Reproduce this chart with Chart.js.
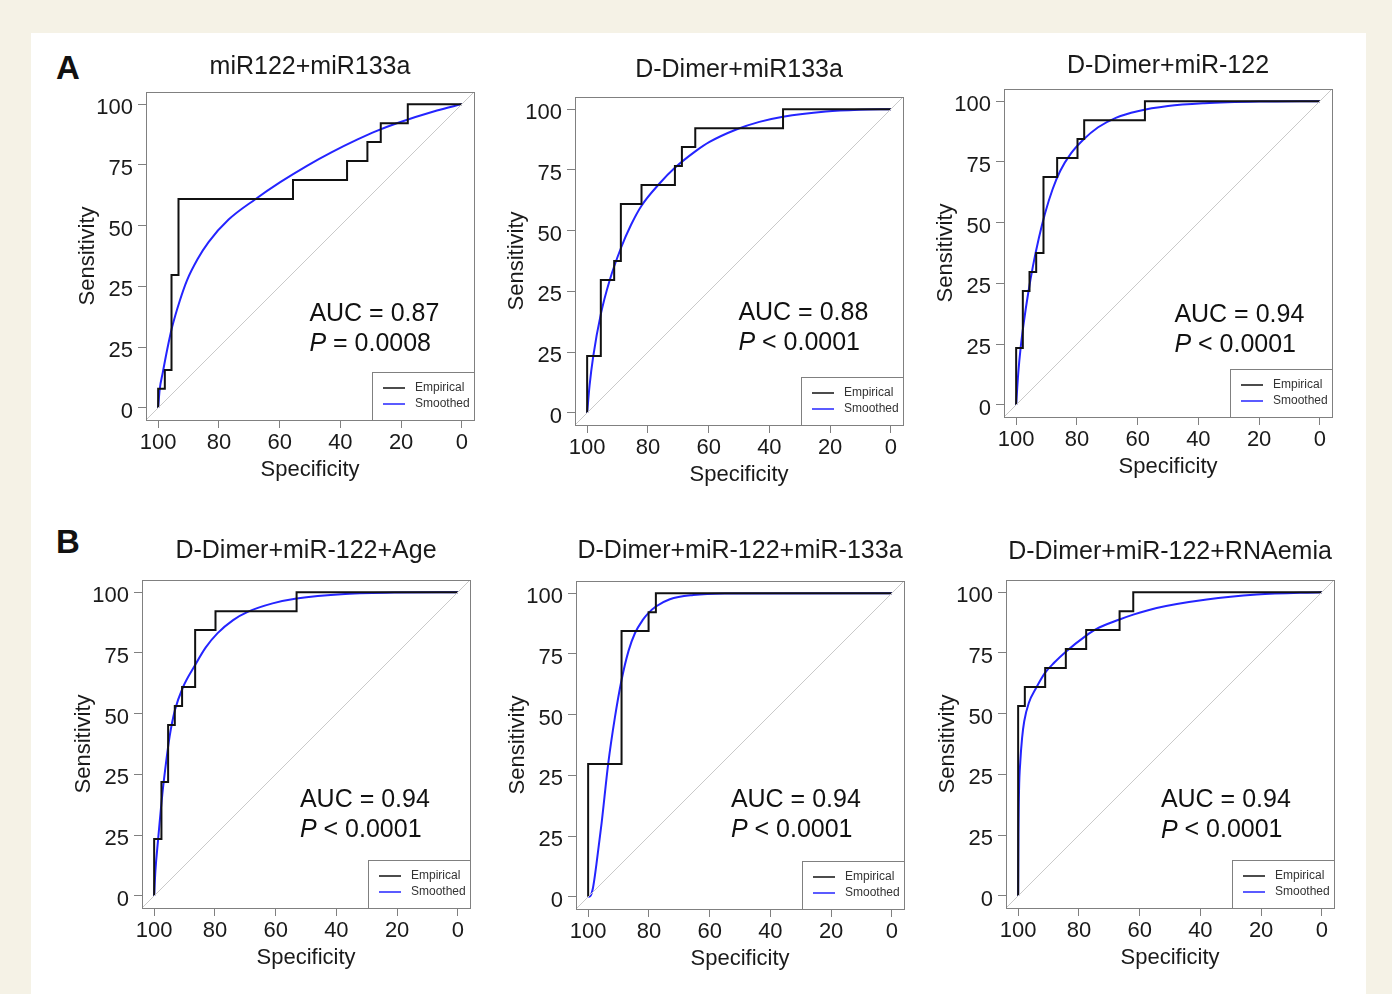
<!DOCTYPE html>
<html>
<head>
<meta charset="utf-8">
<script src="https://cdn.jsdelivr.net/npm/chart.js@4.4.1/dist/chart.umd.min.js"></script>
<style>
  body { margin: 0; width: 1392px; height: 994px; overflow: hidden; position: relative; background: #f5f2e6; font-family: "Liberation Sans", Arial, sans-serif; }
  #sheet { position: absolute; left: 31px; top: 33px; width: 1335px; height: 961px; background: #fff; }
  canvas { position: absolute; }
  .tag { position: absolute; font-weight: bold; font-size: 33px; line-height: 33px; color: #111; }
</style>
</head>
<body>
<div id="sheet"></div>
<div class="tag" style="left:56px;top:51px">A</div>
<div class="tag" style="left:56px;top:525px">B</div>

<script>
// panel titles and annotations
const titles = ['miR122+miR133a', 'D-Dimer+miR133a', 'D-Dimer+miR-122',
                'D-Dimer+miR-122+Age', 'D-Dimer+miR-122+miR-133a', 'D-Dimer+miR-122+RNAemia'];
const aucText = ['AUC = 0.87', 'AUC = 0.88', 'AUC = 0.94', 'AUC = 0.94', 'AUC = 0.94', 'AUC = 0.94'];
const pText = [' = 0.0008', ' < 0.0001', ' < 0.0001', ' < 0.0001', ' < 0.0001', ' < 0.0001'];
const legendLabels = ['Empirical', 'Smoothed'];

// axis ticks (y labels copied as printed in the figure)
const xTicks = [100, 80, 60, 40, 20, 0];
const yTicks = [0, 20, 40, 60, 80, 100];
const yTickLabels = ['0', '25', '25', '50', '75', '100'];

// empirical ROC points: specificity / sensitivity
const empSpec = [
  [100, 100, 97.8, 95.6, 93.3, 55.6, 37.8, 31.1, 26.7, 17.8, 0],
  [100, 100, 95.5, 91.1, 88.9, 82.1, 71.1, 68.8, 64.4, 35.5, 0],
  [100, 100, 97.8, 95.6, 93.4, 91.0, 86.5, 79.8, 77.6, 57.6, 0],
  [100, 100, 97.6, 95.4, 93.2, 90.8, 86.5, 79.8, 53.1, 0],
  [100, 100, 89.0, 80.1, 77.7, 0],
  [100, 100, 97.8, 91.1, 84.3, 77.6, 66.6, 62.1, 0]
];
const empSens = [
  [0, 6.25, 12.5, 43.75, 68.75, 75, 81.25, 87.5, 93.75, 100, 100],
  [0, 18.75, 43.75, 50, 68.75, 75, 81.25, 87.5, 93.75, 100, 100],
  [0, 18.75, 37.5, 43.75, 50, 75, 81.25, 87.5, 93.75, 100, 100],
  [0, 18.75, 37.5, 56.25, 62.5, 68.75, 87.5, 93.75, 100, 100],
  [0, 43.75, 87.5, 93.75, 100, 100],
  [0, 62.5, 68.75, 75, 81.25, 87.5, 93.75, 100, 100]
];

// smoothed ROC curves
const smSpec = [
  [100, 99.5, 98.5, 97.0, 95.4, 92.9, 90.5, 87.0, 83.4, 76.8, 68.0, 59.8, 51.0, 42.8, 34.5, 28.0, 21.4, 8.2, 0],
  [100, 99.2, 98.0, 95.5, 92.6, 88.9, 85.5, 82.1, 76.1, 71.2, 64.5, 59.7, 50.9, 43.3, 35.5, 21.4, 10.4, 0],
  [100, 99.3, 98.5, 97.5, 96.0, 94.5, 92.5, 90.5, 88.0, 85.5, 82.0, 78.0, 73.0, 67.0, 60.0, 50.0, 38.0, 20.0, 0],
  [100, 99.6, 98.7, 97.3, 96.0, 94.9, 93.2, 90.5, 86.5, 83.0, 79.1, 74.0, 69.2, 61.0, 53.1, 37.1, 20.0, 0],
  [100, 99.2, 98.4, 97.3, 95.6, 93.4, 91.2, 89.0, 86.7, 84.6, 82.0, 80.1, 77.7, 73.1, 65.4, 55.0, 0],
  [100, 99.9, 99.7, 99.3, 98.7, 98.0, 96.5, 94.0, 91.1, 88.0, 84.3, 77.6, 74.2, 66.6, 62.1, 54.4, 37.9, 21.4, 0]
];
const smSens = [
  [0, 6.0, 11.5, 19.3, 26.6, 35.2, 42.0, 49.0, 54.6, 62.0, 68.7, 74.3, 79.7, 84.2, 88.3, 91.2, 93.7, 97.9, 100],
  [0, 9.0, 18.6, 32.5, 43.6, 54.2, 62.0, 68.2, 75.6, 80.6, 86.0, 89.2, 93.3, 95.8, 97.5, 99.2, 99.8, 100],
  [0, 10.5, 19.0, 27.0, 37.0, 45.5, 55.0, 63.0, 71.0, 77.0, 82.7, 87.2, 91.4, 94.6, 96.7, 98.4, 99.3, 99.85, 100],
  [0, 8.0, 18.5, 33.5, 44.5, 52.5, 61.0, 68.7, 76.0, 81.8, 86.5, 90.8, 93.5, 96.3, 97.9, 99.4, 99.9, 100],
  [0, 0.4, 3.0, 10.5, 24.0, 43.8, 59.0, 71.4, 81.0, 86.8, 91.2, 93.5, 95.6, 98.0, 99.4, 99.9, 100],
  [0, 20.0, 35.0, 44.0, 52.0, 57.5, 63.5, 68.6, 73.5, 76.9, 80.4, 85.7, 87.9, 91.0, 92.6, 94.8, 97.6, 99.2, 100]
];

// layout: plot box top-left on the page, title gap above the box,
// and where the AUC / P text sits (data units)
const boxPos = [[146, 92], [575, 97], [1004, 89], [142, 580], [576, 581], [1006, 580]];
const titleGap = [27, 29, 25, 31, 32, 30];
const notePos = [[50.2, 31, 21], [50.2, 33, 23], [47.9, 29.7, 19.8], [52, 31.6, 21.8], [53, 32, 22], [53, 31.4, 21.5]];

const FONT = '"Liberation Sans", Arial, sans-serif';
const PAD_L = 80, PAD_T = 45, BOX = 328, PAD_R = 12, PAD_B = 75;
Chart.defaults.font.family = FONT;
Chart.defaults.color = '#1a1a1a';

const pts = (xs, ys) => xs.map((x, i) => ({ x: x, y: ys[i] }));

// box, AUC text and R-style legend inside the plot
const panelDecor = {
  id: 'panelDecor',
  afterDatasetsDraw(chart) {
    const { ctx, chartArea: a, scales: { x, y } } = chart;
    const k = chart.options.plugins.panelDecor.index;
    ctx.save();
    ctx.strokeStyle = '#808080';
    ctx.lineWidth = 1;
    ctx.strokeRect(a.left + 0.5, a.top + 0.5, a.right - a.left, a.bottom - a.top);

    // AUC / P
    const [nx, ny1, ny2] = notePos[k];
    const tx = x.getPixelForValue(nx);
    ctx.fillStyle = '#111';
    ctx.textBaseline = 'middle';
    ctx.textAlign = 'left';
    ctx.font = '25px ' + FONT;
    ctx.fillText(aucText[k], tx, y.getPixelForValue(ny1));
    ctx.font = 'italic 25px ' + FONT;
    ctx.fillText('P', tx, y.getPixelForValue(ny2));
    const w = ctx.measureText('P').width;
    ctx.font = '25px ' + FONT;
    ctx.fillText(pText[k], tx + w, y.getPixelForValue(ny2));

    // legend
    const lw = 102, lh = 48;
    const lx = a.right - lw, ly = a.bottom - lh;
    ctx.fillStyle = '#fff';
    ctx.fillRect(lx, ly, lw, lh);
    ctx.strokeStyle = '#808080';
    ctx.strokeRect(lx + 0.5, ly + 0.5, lw, lh);
    const cols = [chart.data.datasets[1].borderColor, chart.data.datasets[2].borderColor];
    legendLabels.forEach((lab, i) => {
      const yy = a.bottom - 32 + i * 16;
      ctx.strokeStyle = cols[i];
      ctx.lineWidth = 1.5;
      ctx.beginPath();
      ctx.moveTo(a.right - 91, yy);
      ctx.lineTo(a.right - 69, yy);
      ctx.stroke();
      ctx.fillStyle = '#333';
      ctx.font = '12px ' + FONT;
      ctx.fillText(lab, a.right - 59, yy);
    });
    ctx.restore();
  }
};

titles.forEach((title, k) => {
  const cv = document.createElement('canvas');
  cv.width = PAD_L + BOX + PAD_R;
  cv.height = PAD_T + BOX + PAD_B;
  cv.style.left = (boxPos[k][0] - PAD_L) + 'px';
  cv.style.top = (boxPos[k][1] - PAD_T) + 'px';
  document.body.appendChild(cv);

  const padBottom = titleGap[k] - 15;

  new Chart(cv.getContext('2d'), {
    type: 'line',
    data: {
      datasets: [
        { label: 'diag', data: [{ x: 104, y: -4 }, { x: -4, y: 104 }],
          borderColor: '#c9c9c9', borderWidth: 1, pointRadius: 0 },
        { label: legendLabels[0], data: pts(empSpec[k], empSens[k]), stepped: true,
          borderColor: '#111111', borderWidth: 2, pointRadius: 0 },
        { label: legendLabels[1], data: pts(smSpec[k], smSens[k]), cubicInterpolationMode: 'monotone',
          borderColor: '#2424ff', borderWidth: 2, pointRadius: 0 }
      ]
    },
    options: {
      responsive: false,
      animation: false,
      events: [],
      layout: { padding: { left: 0, top: 0, right: PAD_R, bottom: 0 } },
      plugins: {
        legend: { display: false },
        tooltip: { enabled: false },
        title: {
          display: true, text: title, fullSize: false, color: '#1a1a1a',
          font: { size: 25, weight: 'normal', lineHeight: 1 },
          padding: { top: PAD_T - 25 - padBottom, bottom: padBottom }
        },
        panelDecor: { index: k }
      },
      scales: {
        x: {
          type: 'linear', reverse: true, min: -4, max: 104,
          afterBuildTicks: s => { s.ticks = xTicks.map(v => ({ value: v })); },
          afterFit: s => { s.height = PAD_B; },
          ticks: { font: { size: 22 }, color: '#1a1a1a', padding: 2, maxRotation: 0, autoSkip: false },
          grid: { drawOnChartArea: false, drawTicks: true, tickLength: 8, color: '#808080' },
          border: { display: false },
          title: { display: true, text: 'Specificity', color: '#1a1a1a',
                   font: { size: 22, lineHeight: 1.2 }, padding: { top: 0, bottom: 12 } }
        },
        y: {
          type: 'linear', min: -4, max: 104,
          afterBuildTicks: s => { s.ticks = yTicks.map(v => ({ value: v })); },
          afterFit: s => { s.width = PAD_L; },
          ticks: { font: { size: 22 }, color: '#1a1a1a', padding: 5, autoSkip: false, labelOffset: 4,
                   callback: (v, i) => yTickLabels[i] },
          grid: { drawOnChartArea: false, drawTicks: true, tickLength: 8, color: '#808080' },
          border: { display: false },
          title: { display: true, text: 'Sensitivity', color: '#1a1a1a',
                   font: { size: 22, lineHeight: 1.2 }, padding: { top: 9, bottom: 0 } }
        }
      }
    },
    plugins: [panelDecor]
  });
});
</script>
</body>
</html>
